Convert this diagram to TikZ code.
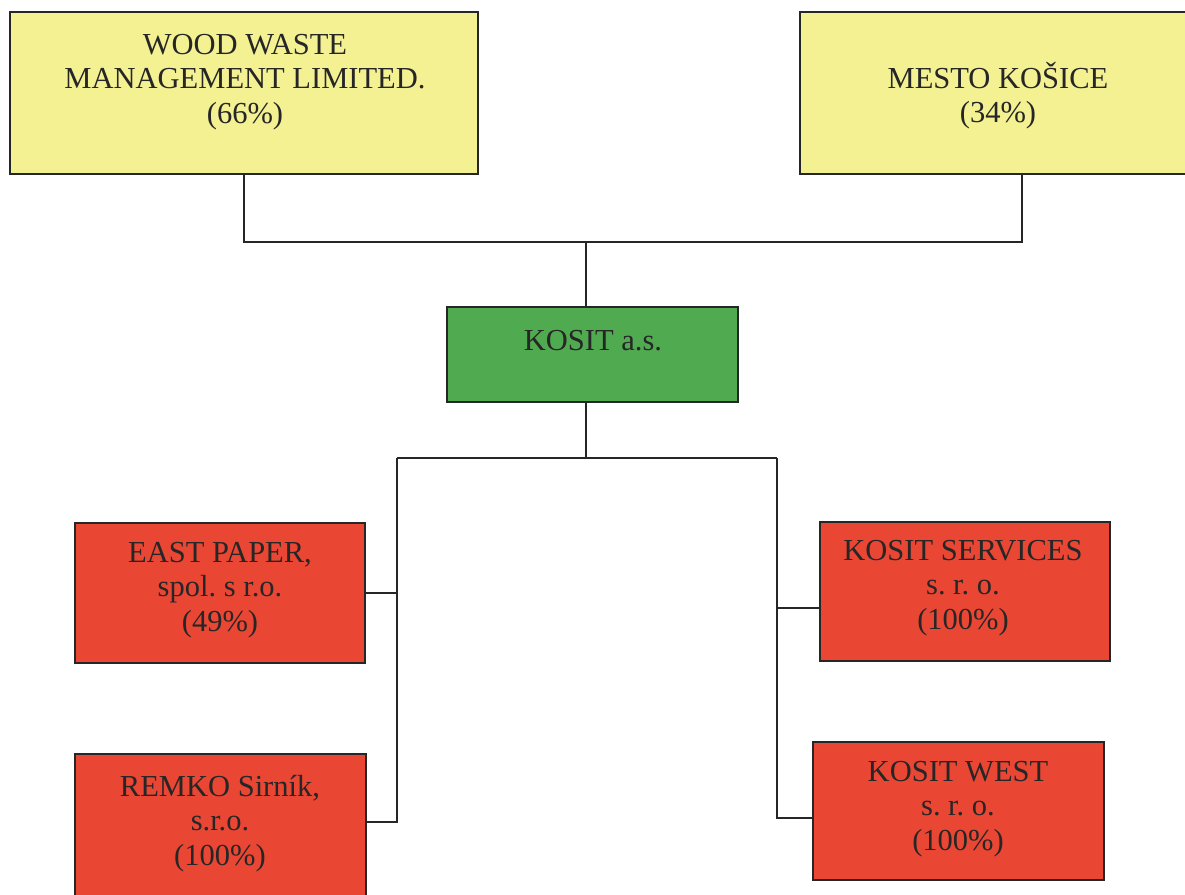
\documentclass[tikz,border=0pt]{standalone}
\usepackage{fontspec}
\setmainfont{Liberation Serif}
\frenchspacing
\definecolor{ownerfill}{RGB}{243,241,146}
\definecolor{parentfill}{RGB}{80,170,80}
\definecolor{subfill}{RGB}{234,70,52}
\begin{document}
\begin{tikzpicture}[x=0.025cm,y=-0.025cm,
        box/.style={draw=black!85,line width=1.3pt,inner sep=0pt},
        txt/.style={anchor=north,align=center,inner sep=0pt,text=black!85,
            font=\fontsize{21.7}{24.4}\selectfont},
        link/.style={black!85,line width=1.3pt}]
    \useasboundingbox[fill=white] (0,0) rectangle (1185,895);
    % owners
    \node[box,fill=ownerfill,minimum width=11.7cm,minimum height=4.05cm] (wwm) at (244,93) {};
    \node[box,fill=ownerfill,minimum width=9.85cm,minimum height=4.05cm] (mesto) at (997,93) {};
    \node[txt] (wwm-t) at (245,34) {WOOD WASTE\\MANAGEMENT LIMITED.\\(66\%)};
    \node[txt] (mesto-t) at (998,62) {MESTO KOŠICE\\(34\%)};
    % parent
    \node[box,fill=parentfill,minimum width=7.275cm,minimum height=2.375cm] (kosit) at (592.5,354.5) {};
    \node[txt] (kosit-t) at (593,330) {KOSIT a.s.};
    % subsidiaries
    \node[box,fill=subfill,minimum width=7.25cm,minimum height=3.5cm] (east) at (220,593) {};
    \node[box,fill=subfill,minimum width=7.275cm,minimum height=3.65cm] (remko) at (220.5,827) {};
    \node[box,fill=subfill,minimum width=7.25cm,minimum height=3.475cm] (services) at (965,591.5) {};
    \node[box,fill=subfill,minimum width=7.275cm,minimum height=3.45cm] (west) at (958.5,811) {};
    \node[txt] (east-t) at (220,542) {EAST PAPER,\\spol. s r.o.\\(49\%)};
    \node[txt] (remko-t) at (220,775) {REMKO Sirník,\\s.r.o.\\(100\%)};
    \node[txt] (services-t) at (963,540) {KOSIT SERVICES\\s. r. o.\\(100\%)};
    \node[txt] (west-t) at (958,761) {KOSIT WEST\\s. r. o.\\(100\%)};
    % connectors
    \coordinate (top-bus) at (586,242);
    \coordinate (mid-bus) at (586,458);
    \coordinate (left-bus) at (397,458);
    \coordinate (right-bus) at (777,458);
    \draw[link] (wwm.south) |- (top-bus) -| ([xshift=0.625cm]mesto.south);
    \draw[link] (top-bus) -- (top-bus |- kosit.north);
    \draw[link] (mid-bus |- kosit.south) -- (mid-bus);
    \draw[link] (left-bus) -- (right-bus);
    \draw[link] (left-bus) |- ([yshift=0.125cm]remko.east);
    \draw[link] (east.east) -- (east.east -| left-bus);
    \draw[link] (right-bus) |- ([yshift=-0.175cm]west.west);
    \draw[link] ([yshift=-0.41cm]services.west) -- ([yshift=-0.41cm]services.west -| right-bus);
\end{tikzpicture}
\end{document}
